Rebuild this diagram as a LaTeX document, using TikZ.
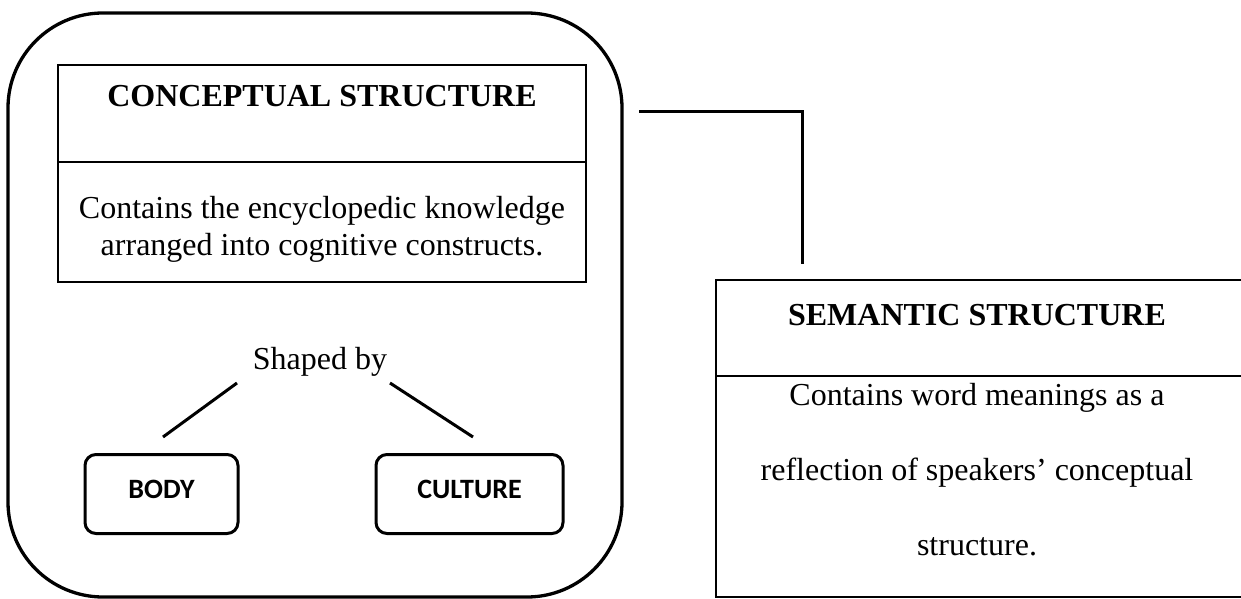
\documentclass[tikz,border=0pt]{standalone}
\usepackage{fontspec}
\setmainfont{Liberation Serif}
\newfontfamily\labelsans{Carlito}
\begin{document}
\begin{tikzpicture}[x=1pt,y=-1pt,
  mindframe/.style={draw=black,line width=3.3pt,rounded corners=95pt,minimum width=614pt,minimum height=584pt,inner sep=0pt},
  panel/.style={draw=black,line width=2.8pt,inner sep=0pt},
  factorbox/.style={draw=black,line width=3pt,rounded corners=11pt,minimum width=153pt,minimum height=79pt,inner sep=0pt},
  heading/.style={inner sep=0pt,font=\fontsize{32}{37}\selectfont\bfseries},
  bodytext/.style={inner sep=0pt,align=center,font=\fontsize{32}{37}\selectfont},
  factortext/.style={inner sep=0pt,font=\fontsize{28}{32}\selectfont\labelsans\bfseries},
  link/.style={draw=black,line width=3pt}]
\useasboundingbox (0,0) rectangle (1241,599);
\clip (0,0) rectangle (1241,599);

% outer frame holding the conceptual side
\node[mindframe] (mind) at (315,305) {};

% conceptual structure box
\node[panel,minimum width=528pt,minimum height=97pt] (conhead) at (322,113.5) {};
\node[panel,minimum width=528pt,minimum height=120pt] (conbody) at (322,222) {};
\node[heading] (contitle) at (322,96) {CONCEPTUAL STRUCTURE};
\node[bodytext] (context) at (322,229) {Contains the encyclopedic knowledge\\arranged into cognitive constructs.};

% shaping factors
\node[anchor=base,inner sep=0pt,font=\fontsize{32}{37}\selectfont] (shaped) at (320,369) {Shaped by};
\node[factorbox] (body) at (161.5,494) {};
\node[factortext] (bodytxt) at (161.5,489) {BODY};
\node[factorbox,minimum width=187pt] (culture) at (469.5,494) {};
\node[factortext] (culturetxt) at (469.5,489) {CULTURE};
\coordinate (lefttop) at (237,383);
\coordinate (leftfoot) at (163,437);
\coordinate (righttop) at (390,383);
\coordinate (rightfoot) at (473,437);
\draw[link] (lefttop) -- (leftfoot);
\draw[link] (righttop) -- (rightfoot);

% semantic structure box
\node[panel,minimum width=530pt,minimum height=96pt] (semhead) at (981,328) {};
\node[panel,minimum width=530pt,minimum height=221pt] (sembody) at (981,486.5) {};
\node[heading] (semtitle) at (977,315) {SEMANTIC STRUCTURE};
\node[bodytext,font=\fontsize{32}{75}\selectfont] (semtext) at (977,470) {Contains word meanings as a\\reflection of speakers’ conceptual\\structure.};

% link between the two structures
\coordinate (linkstart) at (639,112);
\coordinate (linkend) at (802,264);
\draw[link] (linkstart) -| (linkend);
\end{tikzpicture}
\end{document}
